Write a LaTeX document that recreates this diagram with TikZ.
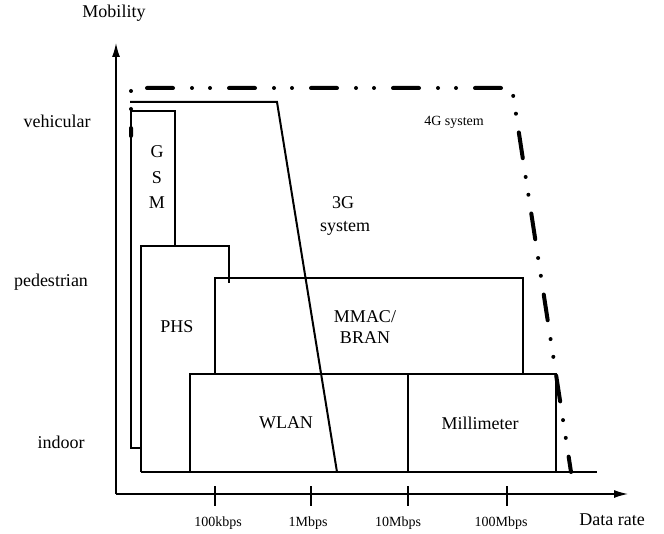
\documentclass[tikz,border=0pt]{standalone}
\usepackage{fontspec}
\setmainfont{Liberation Serif}
\usetikzlibrary{arrows.meta}

\begin{document}
\begin{tikzpicture}[x=1pt,y=-1pt,
  lbl/.style={font=\fontsize{18}{21}\selectfont},
  small/.style={font=\fontsize{14}{16}\selectfont},
  box/.style={line width=1.2pt},
  axis/.style={line width=1.4pt,-{Latex[length=14pt,width=8pt]}},
  gen4/.style={line width=4pt,line cap=round,
    dash pattern=on 26pt off 19pt on 0pt off 18pt on 0pt off 19pt,dash phase=18pt}]
\useasboundingbox (0,0) rectangle (664,534);

% axes
\coordinate (o) at (116,494);
\coordinate (ytip) at (116,43);
\coordinate (xtip) at (628,494);
\draw[axis] (o) -- (ytip);
\draw[axis] (o) -- (xtip);
\node[lbl] (mob) at (114,13) {Mobility};
\node[lbl] (rate) at (612,520) {Data rate};
\foreach \x/\lx/\t [count=\i] in {215/218/100kbps,311/308/1Mbps,408/398/10Mbps,507/501/100Mbps} {
    \draw[line width=1.2pt] (\x,486) -- (\x,506);
    \node[small] (tick\i) at (\lx,523) {\t};
}

% mobility levels
\node[lbl] (veh) at (57,121) {vehicular};
\node[lbl] (ped) at (51,282) {pedestrian};
\node[lbl] (ind) at (61,442) {indoor};

% 4G system
\draw[gen4] (131,136) -- (131,88) -- (512,88) -- (571,472);
\node[small] (g4) at (454,122) {4G system};

% 3G system
\draw[line width=2pt] (130,102) -- (277,102) -- (337,472);
\node[lbl] (g3) at (343,203) {3G};
\node[lbl] (g3s) at (345,228) {system};

% GSM
\draw[box] (141,448) -- (131,448) -- (131,111) -- (175,111) -- (175,246);
\foreach \c/\y in {G/152,S/178,M/203}
    \node[lbl] (gsm\c) at (157,\y) {\c};

% PHS
\draw[box] (141,472) -- (141,246) -- (229,246) -- (229,283);
\node[lbl] (phs) at (177,327) {PHS};

% MMAC/BRAN
\draw[box] (215,374) -- (215,278) -- (523,278) -- (523,374);
\node[lbl,align=center] (mmac) at (365,327) {MMAC/\\BRAN};

% WLAN, Millimeter
\draw[box] (190,472) -- (190,374) -- (556,374) -- (556,472);
\draw[box] (408,374) -- (408,472);
\draw[box] (141,472) -- (597,472);
\node[lbl] (wlan) at (286,423) {WLAN};
\node[lbl] (mm) at (480,423) {Millimeter};
\end{tikzpicture}
\end{document}
